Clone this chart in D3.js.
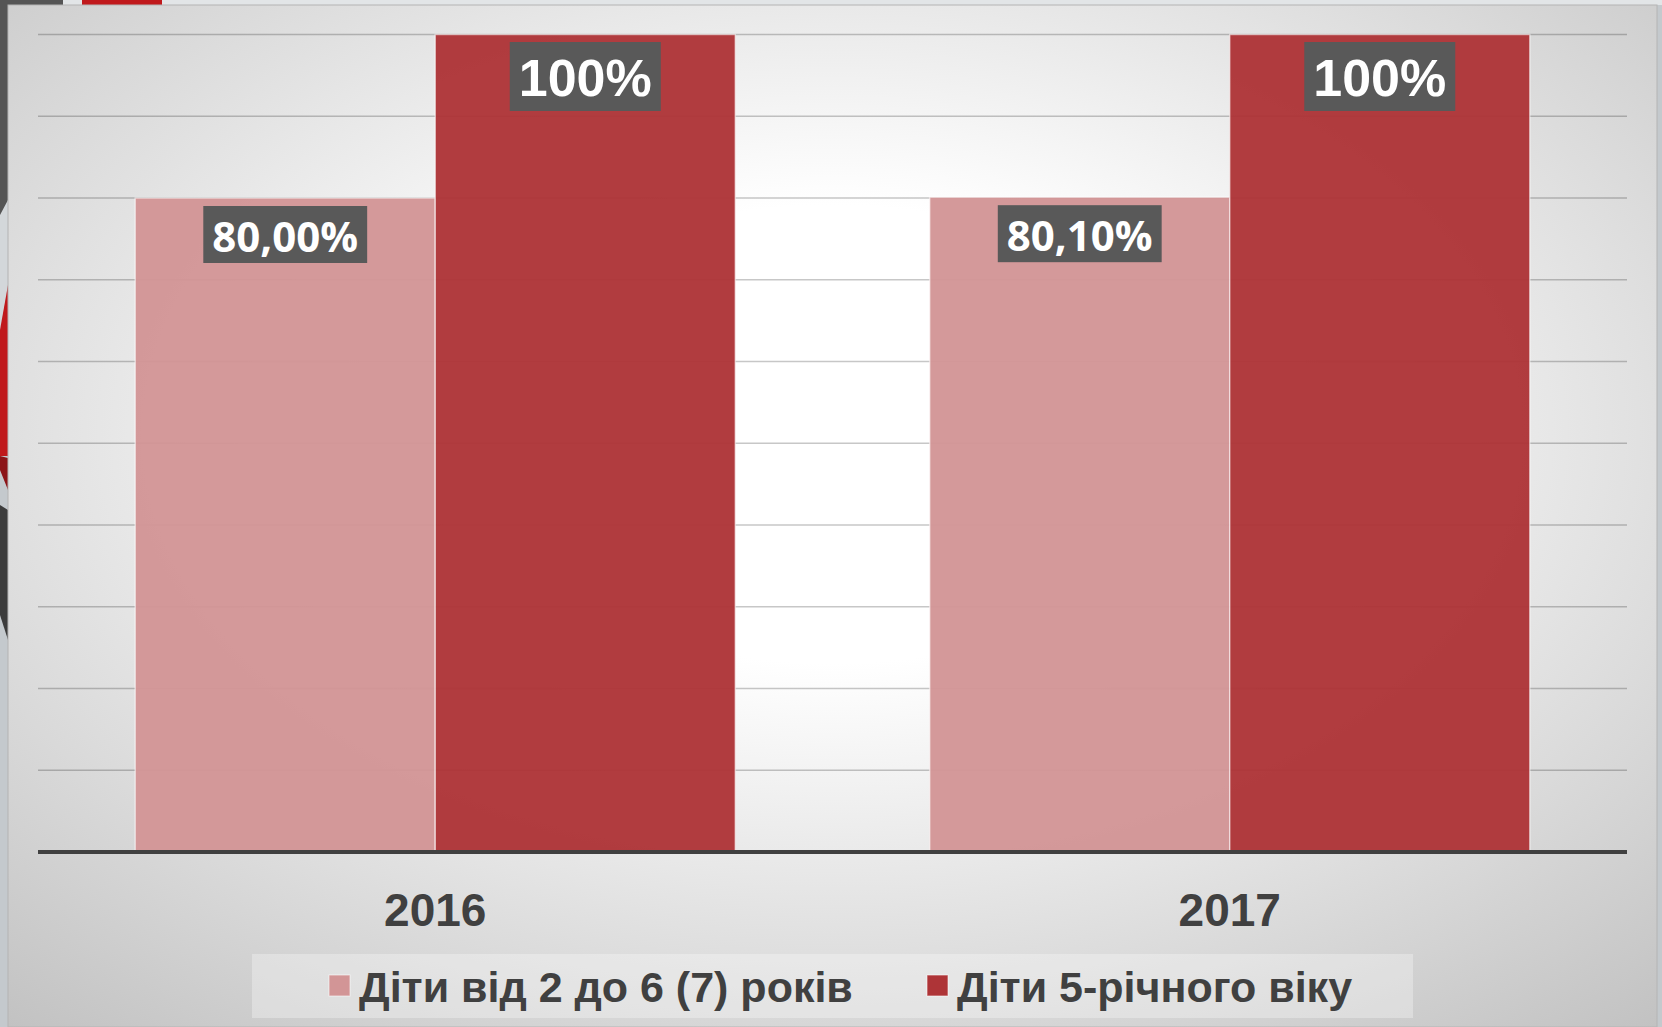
<!DOCTYPE html>
<html>
<head>
<meta charset="utf-8">
<script src="https://cdn.jsdelivr.net/npm/d3@7"></script>
<style>
    body { margin: 0; background: #c4c9cd; }
    svg { display: block; }
</style>
</head>
<body>
<svg id="chart" width="1662" height="1027"></svg>
<script>

// ##################################################
// #                                                #
// #  Data                                          #
// #                                                #
// ##################################################

const years = ['2016', '2017'];
const seriesNames = ['Діти від 2 до 6 (7) років', 'Діти 5-річного віку'];
const seriesColors = ['#d29596', '#ae3437'];
// values in percent, [series][year]
const youngValues = [80.0, 80.1];
const fiveYearValues = [100, 100];
const youngLabels = ['80,00%', '80,10%'];
const fiveYearLabels = ['100%', '100%'];
const yTicks = [10, 20, 30, 40, 50, 60, 70, 80, 90, 100];

const rows = [];
years.forEach((year, i) => {
    rows.push({year, series: 0, value: youngValues[i], label: youngLabels[i]});
    rows.push({year, series: 1, value: fiveYearValues[i], label: fiveYearLabels[i]});
});

// ##################################################
// #                                                #
// #  Layout                                        #
// #                                                #
// ##################################################

let svg = d3.select('#chart');
let width = 1662;
let height = 1027;
let plot = {left: 38, right: 1627, top: 34.5, bottom: 852};

let x0 = d3.scaleBand()
    .domain(years)
    .range([plot.left, plot.right])
    .padding(0);

let x1 = d3.scaleBand()
    .domain([0, 1])
    .range([0, x0.bandwidth()])
    .paddingInner(0)
    .paddingOuter(0.324);

let y = d3.scaleLinear()
    .domain([0, 100])
    .range([plot.bottom, plot.top]);

// ##################################################
// #                                                #
// #  Background                                    #
// #                                                #
// ##################################################

let defs = svg.append('defs');
let grad = defs.append('radialGradient')
    .attr('id', 'bg')
    .attr('cx', 0.5).attr('cy', 0.42).attr('r', 0.8);
grad.append('stop').attr('offset', 0).attr('stop-color', '#ffffff');
grad.append('stop').attr('offset', 0.28).attr('stop-color', '#ffffff');
grad.append('stop').attr('offset', 0.6).attr('stop-color', '#e2e2e2');
grad.append('stop').attr('offset', 1).attr('stop-color', '#bebebe');

svg.append('rect')
    .attr('width', width).attr('height', height)
    .attr('fill', '#c4c9cd');

// slide decoration at the top and left edges
svg.append('rect').attr('x', 0).attr('y', 0).attr('width', width).attr('height', 5).attr('fill', '#e2e5e7');
svg.append('rect').attr('x', 0).attr('y', 0).attr('width', 63).attr('height', 5).attr('fill', '#555555');
svg.append('rect').attr('x', 82).attr('y', 0).attr('width', 80).attr('height', 5).attr('fill', '#c0191c');
svg.append('polygon').attr('points', '0,0 8,0 8,205 0,235').attr('fill', '#555555');
svg.append('polygon').attr('points', '0,215 8,200 8,290 0,330').attr('fill', '#d3d7da');
svg.append('polygon').attr('points', '0,330 8,285 8,456 0,456').attr('fill', '#c0191c');
svg.append('polygon').attr('points', '0,456 8,458 8,490 0,470').attr('fill', '#8c1418');
svg.append('polygon').attr('points', '0,505 8,510 8,640 0,615').attr('fill', '#3c3c3c');

svg.append('rect')
    .attr('x', 8).attr('y', 5)
    .attr('width', 1649).attr('height', 1022)
    .attr('fill', 'url(#bg)')
    .attr('stroke', '#b4b4b4')
    .attr('stroke-width', 1);

// ##################################################
// #                                                #
// #  Grid                                          #
// #                                                #
// ##################################################

let gridGroup = svg.append('g').attr('class', 'grid');
gridGroup.selectAll('line')
    .data(yTicks)
    .enter()
    .append('line')
    .attr('x1', plot.left)
    .attr('x2', plot.right)
    .attr('y1', d => y(d))
    .attr('y2', d => y(d))
    .attr('stroke', 'rgba(0,0,0,0.22)')
    .attr('stroke-width', 1.5);

// ##################################################
// #                                                #
// #  Bars                                          #
// #                                                #
// ##################################################

let barGroup = svg.append('g').attr('class', 'bars');
barGroup.selectAll('.bar')
    .data(rows)
    .enter()
    .append('rect')
    .attr('class', 'bar')
    .attr('x', d => x0(d.year) + x1(d.series))
    .attr('y', d => y(d.value))
    .attr('width', x1.bandwidth())
    .attr('height', d => y(0) - y(d.value))
    .attr('fill', d => seriesColors[d.series])
    .attr('fill-opacity', 0.96)
    .attr('stroke', 'rgba(255,255,255,0.55)')
    .attr('stroke-width', 1.5);

// axis line
let xAxis = d3.axisBottom(x0).tickSize(0).tickPadding(0);
let axisGroup = svg.append('g')
    .attr('transform', `translate(0,${y(0)})`)
    .call(xAxis);
axisGroup.select('.domain')
    .attr('d', `M${plot.left},0H${plot.right}`)
    .attr('stroke', '#404040')
    .attr('stroke-width', 4);
axisGroup.selectAll('.tick text')
    .attr('y', 74)
    .attr('dy', 0)
    .attr('fill', '#404040')
    .style('font-family', '"Liberation Sans", Arial, sans-serif')
    .style('font-weight', 'bold')
    .style('font-size', '46px');

// ##################################################
// #                                                #
// #  Value labels                                  #
// #                                                #
// ##################################################

let labelFonts = [
    {family: '"Open Sans", sans-serif', size: 42, top: 8, height: 57, base: 46},
    {family: '"Liberation Sans", Arial, sans-serif', size: 52, top: 7.5, height: 69, base: 54}
];

let labelGroup = svg.append('g').attr('class', 'labels');
let label = labelGroup.selectAll('.label')
    .data(rows)
    .enter()
    .append('g')
    .attr('class', 'label');

label.append('rect')
    .attr('fill', '#595959');

let labelText = label.append('text')
    .attr('x', d => x0(d.year) + x1(d.series) + x1.bandwidth() / 2)
    .attr('y', d => y(d.value) + labelFonts[d.series].top + labelFonts[d.series].base)
    .attr('text-anchor', 'middle')
    .attr('fill', '#ffffff')
    .style('font-family', d => labelFonts[d.series].family)
    .style('font-weight', 'bold')
    .style('font-size', d => labelFonts[d.series].size + 'px')
    .text(d => d.label);

labelText.each(function (d) {
    let w = this.getComputedTextLength() + 18;
    let cx = x0(d.year) + x1(d.series) + x1.bandwidth() / 2;
    d3.select(this.parentNode).select('rect')
        .attr('x', cx - w / 2)
        .attr('y', y(d.value) + labelFonts[d.series].top)
        .attr('width', w)
        .attr('height', labelFonts[d.series].height);
});

// ##################################################
// #                                                #
// #  Legend                                        #
// #                                                #
// ##################################################

let legendGroup = svg.append('g').attr('class', 'legend');
legendGroup.append('rect')
    .attr('x', 252).attr('y', 954)
    .attr('width', 1161).attr('height', 64)
    .attr('fill', 'rgba(255,255,255,0.3)');

let legendX = [329, 927];
let legendItem = legendGroup.selectAll('.item')
    .data(seriesNames)
    .enter()
    .append('g')
    .attr('class', 'item')
    .attr('transform', (d, i) => `translate(${legendX[i]},975)`);

legendItem.append('rect')
    .attr('width', 21).attr('height', 21)
    .attr('fill', (d, i) => seriesColors[i])
    .attr('stroke', 'rgba(255,255,255,0.6)')
    .attr('stroke-width', 1);

legendItem.append('text')
    .attr('x', 30)
    .attr('y', 27)
    .attr('fill', '#404040')
    .style('font-family', '"Liberation Sans", Arial, sans-serif')
    .style('font-weight', 'bold')
    .style('font-size', '43px')
    .text(d => d);

</script>
</body>
</html>
